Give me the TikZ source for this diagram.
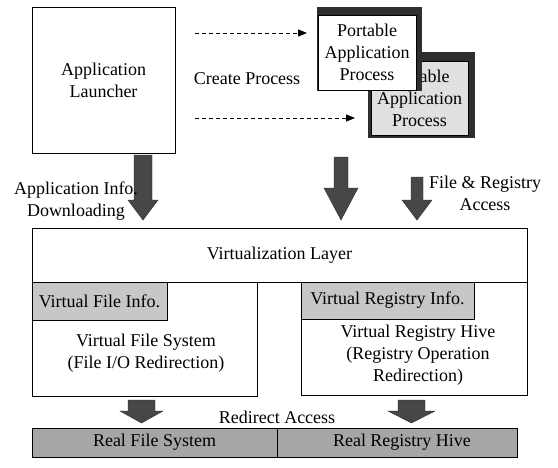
\documentclass[tikz,border=0pt]{standalone}
\usepackage{fontspec}
\setmainfont{Liberation Serif}
\usetikzlibrary{arrows.meta,calc}
\newcommand\blockarr[6]{%
  \filldraw[blk] ({#1-#5},#2) -- ({#1+#5},#2) -- ({#1+#5},#3) -- ({#1+#6},#3)
    -- (#1,#4) -- ({#1-#6},#3) -- ({#1-#5},#3) -- cycle;}
\begin{document}
\begin{tikzpicture}[x=1pt,y=-1pt,
  font=\fontsize{18}{22}\selectfont,
  box/.style={draw=black, line width=0.9pt, inner sep=0pt, outer sep=0pt, align=center},
  txt/.style={align=center, inner sep=0pt},
  dasharrow/.style={dash pattern=on 4pt off 3pt, line width=0.8pt,
    -{Triangle[length=9pt,width=7pt]}},
  blk/.style={fill=black!72, draw=black!85, line width=0.4pt},
  shadow/.style={fill=black!82}]
\useasboundingbox (0,0) rectangle (558,467);

% Application launcher
\node[box, minimum width=143pt, minimum height=146pt] (launcher) at (103.5,80)
  {Application\\Launcher};

% Portable application processes (back one first)
\fill[shadow] (368,52) rectangle (475,138);
\node[box, fill=black!12, minimum width=97pt, minimum height=74pt] (p2) at (419.5,98)
  {Portable\\Application\\Process};
\fill[shadow] (317,7) rectangle (422,91);
\node[box, fill=white, minimum width=98pt, minimum height=75pt] (p1) at (367,52.5)
  {Portable\\Application\\Process};

% dashed create-process arrows
\coordinate (d1) at (195,33);
\coordinate (d2) at (195,118);
\draw[dasharrow, shorten >=11pt] (d1) -- (d1 -| p1.west);
\draw[dasharrow, shorten >=16pt] (d2) -- (d2 -| p2.west);
\node[txt] (cp) at (247,79) {Create Process};

% big down arrows
\blockarr{143}{155}{200}{220}{9}{15}
\blockarr{341}{157}{188}{220}{7}{17}
\blockarr{417}{177}{200}{220}{6}{15}
\node[txt] (l1) at (76,201) {Application Info.\\Downloading};
\node[txt] (l2) at (485,193) {File \& Registry\\Access};

% virtualization layer
\node[box, minimum width=495pt, minimum height=54pt] (vl) at (279.5,255)
  {Virtualization Layer};
\node[box, minimum width=225pt, minimum height=114pt] (vfs) at (144.5,339) {};
\node[txt] (vfst) at (146,353) {Virtual File System\\(File I/O Redirection)};
\node[box, fill=black!22, minimum width=135pt, minimum height=38pt] (vfi) at (99.5,301)
  {Virtual File Info.};
\node[box, minimum width=226pt, minimum height=113pt] (vrh) at (414,338.5) {};
\node[txt] (vrht) at (418,355) {Virtual Registry Hive\\(Registry Operation\\Redirection)};
\node[box, fill=black!22, minimum width=173pt, minimum height=37pt] (vri) at (387.5,300.5)
  {Virtual Registry Info.};

% redirect arrows
\blockarr{141.5}{400}{411}{423}{13.5}{21.5}
\blockarr{411.5}{400}{411}{423}{13.5}{23.5}
\node[txt] (ra) at (277,417) {Redirect Access};

% real system bar
\node[box, fill=black!35, minimum width=245pt, minimum height=29pt] (rfs) at (154.5,442.5)
  {Real File System};
\node[box, fill=black!35, minimum width=240pt, minimum height=29pt] (rrh) at (397,442.5)
  {\hspace*{10pt}Real Registry Hive};
\end{tikzpicture}
\end{document}
